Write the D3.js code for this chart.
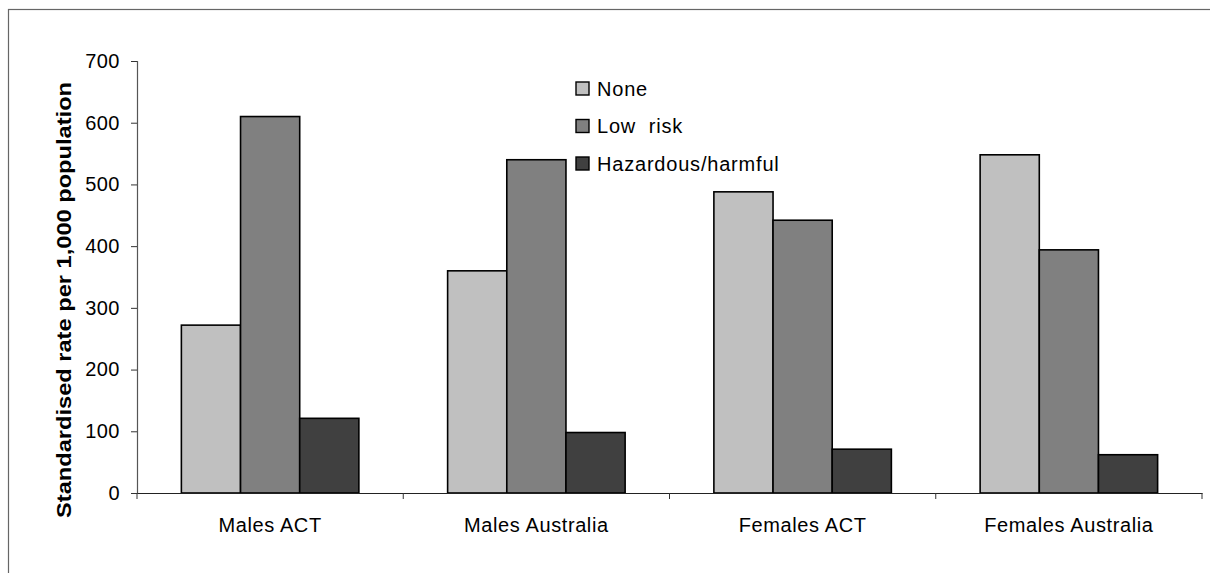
<!DOCTYPE html>
<html><head><meta charset="utf-8">
<script src="https://cdn.jsdelivr.net/npm/d3@7"></script>
<style>body{margin:0;background:#fff;}svg{display:block;font-family:Arial,"Liberation Sans",sans-serif;}</style>
</head><body><svg id="c" width="1210" height="573"></svg>
<script>
const categories = ["Males ACT", "Males Australia", "Females ACT", "Females Australia"];
const seriesNames = ["None", "Low  risk", "Hazardous/harmful"];
const noneValues = [272, 360, 488, 548];
const lowRiskValues = [610, 540, 442, 394];
const hazardousValues = [121, 98, 71, 62];
const yTicks = [0, 100, 200, 300, 400, 500, 600, 700];
const colors = ["#C0C0C0", "#808080", "#404040"];
const yTitle = "Standardised rate per 1,000 population";

(function () {
const series = [noneValues, lowRiskValues, hazardousValues];
const svg = d3.select("#c");
const mLeft = 137, mRight = 1202, mTop = 61, mBottom = 493;
const FONT = "Arial, 'Liberation Sans', sans-serif";

svg.append("rect").attr("x", 8.5).attr("y", 9.5).attr("width", 1220).attr("height", 600)
  .attr("fill", "#fff").attr("stroke", "#666").attr("stroke-width", 1.2);

const x0 = d3.scaleBand().domain(categories).range([mLeft, mRight]).paddingInner(0).paddingOuter(0);
const y = d3.scaleLinear().domain([0, 700]).range([mBottom, mTop]);
const groupFrac = 3 / 4.5;
const x1 = d3.scaleBand().domain(seriesNames)
  .range([x0.bandwidth() * (1 - groupFrac) / 2, x0.bandwidth() * (1 + groupFrac) / 2]).padding(0);

const yAxis = d3.axisLeft(y).tickValues(yTicks).tickSize(6).tickPadding(11).tickFormat(d3.format("d"));
const gy = svg.append("g").attr("transform", `translate(${mLeft},0)`).call(yAxis);
gy.select(".domain").attr("stroke", "#555").attr("stroke-width", 1.2);
gy.selectAll(".tick line").attr("stroke", "#333");
gy.selectAll(".tick text").attr("font-size", 20).attr("letter-spacing", 0.5).attr("fill", "#000").attr("font-family", FONT);

categories.forEach((c, ci) => {
  seriesNames.forEach((s, si) => {
    const v = series[si][ci];
    svg.append("rect")
      .attr("x", x0(c) + x1(s))
      .attr("y", y(v))
      .attr("width", x1.bandwidth())
      .attr("height", y(0) - y(v))
      .attr("fill", colors[si])
      .attr("stroke", "#000").attr("stroke-width", 1.6);
  });
});

const xAxis = d3.axisBottom(x0).tickSize(0).tickPadding(25);
const gx = svg.append("g").attr("transform", `translate(0,${mBottom})`).call(xAxis);
gx.select(".domain").attr("stroke", "#222").attr("stroke-width", 1.2);
gx.selectAll(".tick text").attr("font-size", 20).attr("letter-spacing", 0.6).attr("fill", "#000").attr("font-family", FONT);
const bounds = categories.map(c => x0(c)).concat([mRight]);
svg.append("g").selectAll("line").data(bounds).join("line")
  .attr("x1", d => d).attr("x2", d => d).attr("y1", mBottom).attr("y2", mBottom + 6)
  .attr("stroke", "#333").attr("stroke-width", 1);

svg.append("text").attr("transform", `translate(71,${(82 + 518) / 2}) rotate(-90)`)
  .attr("text-anchor", "middle").attr("font-size", 20).attr("font-weight", "bold")
  .attr("textLength", 436).attr("lengthAdjust", "spacingAndGlyphs")
  .text(yTitle);

const lg = svg.append("g").attr("transform", "translate(576,82)");
seriesNames.forEach((s, i) => {
  const g = lg.append("g").attr("transform", `translate(0,${i * 37.5})`);
  g.append("rect").attr("x", 0).attr("y", 0).attr("width", 13).attr("height", 13)
    .attr("fill", colors[i]).attr("stroke", "#000").attr("stroke-width", 1.4);
  g.append("text").attr("x", 21).attr("y", 13.5).attr("font-size", 20).attr("letter-spacing", 0.8)
    .attr("xml:space", "preserve").style("white-space", "pre").text(s);
});
})();
</script></body></html>
